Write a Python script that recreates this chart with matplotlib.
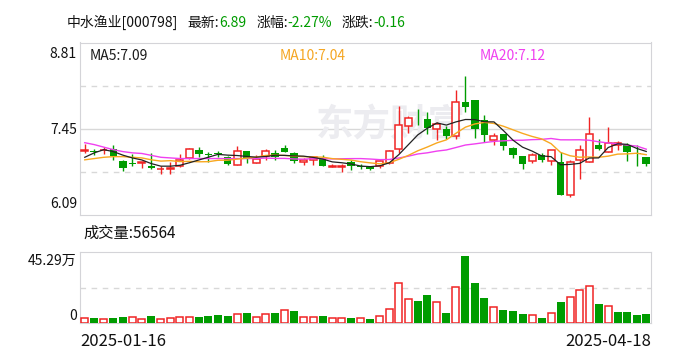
import numpy as np
import pandas as pd
import matplotlib
matplotlib.use("Agg")
import matplotlib.pyplot as plt

plt.rcParams['font.family'] = ['Noto Sans CJK SC', 'DejaVu Sans']

# daily k-line, 2025-01-16 .. 2025-04-18
opens = [7.10, 7.10, 7.11, 7.13, 6.94, 6.91, 6.91, 6.86, 6.81, 6.82,
         6.86, 6.99, 7.12, 7.05, 7.06, 7.00, 6.88, 7.10, 6.91, 7.02,
         7.07, 7.14, 7.07, 6.92, 6.96, 6.97, 6.85, 6.85, 6.93, 6.87,
         6.85, 6.86, 6.91, 7.13, 7.50, 7.61, 7.60, 7.45, 7.45, 7.33,
         7.87, 7.91, 7.59, 7.28, 7.36, 7.15, 7.02, 6.94, 7.04, 6.94,
         6.92, 6.40, 6.95, 6.92, 7.19, 7.09, 7.20, 7.20, 7.06, 7.01]
highs = [7.21, 7.13, 7.17, 7.19, 6.96, 7.05, 6.93, 7.07, 6.86, 6.92,
         7.05, 7.15, 7.16, 7.08, 7.10, 7.02, 7.18, 7.10, 7.04, 7.13,
         7.11, 7.20, 7.09, 6.99, 7.01, 7.03, 6.90, 6.89, 6.96, 6.89,
         6.87, 6.96, 7.12, 7.81, 7.65, 7.76, 7.71, 7.55, 7.50, 8.06,
         8.28, 7.91, 7.67, 7.38, 7.36, 7.17, 7.02, 7.07, 7.07, 7.12,
         7.08, 6.96, 7.20, 7.63, 7.29, 7.48, 7.26, 7.22, 7.20, 7.01]
lows = [7.06, 7.04, 7.05, 6.96, 6.79, 6.87, 6.83, 6.82, 6.73, 6.73,
        6.85, 6.98, 7.00, 6.93, 7.00, 6.88, 6.88, 6.91, 6.91, 6.96,
        6.95, 7.08, 6.91, 6.88, 6.88, 6.86, 6.84, 6.77, 6.80, 6.82,
        6.80, 6.83, 6.90, 7.07, 7.39, 7.51, 7.36, 7.28, 7.29, 7.29,
        7.71, 7.31, 7.24, 7.19, 7.12, 6.99, 6.82, 6.91, 6.93, 6.88,
        6.40, 6.37, 6.66, 6.92, 7.11, 7.09, 7.11, 6.94, 6.86, 6.86]
closes = [7.11, 7.09, 7.12, 7.02, 6.83, 6.89, 6.93, 6.83, 6.82, 6.83,
          6.96, 7.13, 7.05, 7.04, 7.05, 6.90, 7.10, 6.98, 6.98, 7.10,
          7.00, 7.09, 6.94, 6.96, 7.00, 6.87, 6.87, 6.87, 6.86, 6.84,
          6.82, 6.94, 7.10, 7.51, 7.62, 7.60, 7.46, 7.52, 7.34, 7.87,
          7.79, 7.45, 7.35, 7.33, 7.18, 7.04, 6.90, 7.04, 6.95, 7.12,
          6.40, 6.93, 7.12, 7.37, 7.13, 7.22, 7.22, 7.08, 7.05, 6.89]
# volume in 万手, colour as drawn (r = up, g = down)
volumes = [3.6, 3.2, 3.0, 3.2, 3.8, 4.2, 3.0, 4.4, 3.0, 3.6,
           4.2, 4.2, 3.8, 4.4, 5.1, 4.4, 6.1, 6.3, 4.2, 6.1,
           6.3, 8.6, 7.6, 4.2, 4.2, 4.4, 3.6, 3.1, 3.3, 3.1,
           2.7, 4.4, 8.9, 25.3, 15.2, 14.1, 17.9, 13.3, 6.5, 22.8,
           42.6, 25.5, 16.0, 10.1, 8.4, 7.8, 5.9, 5.1, 3.4, 6.3,
           13.5, 16.4, 20.9, 23.4, 12.2, 10.8, 7.1, 7.1, 5.2, 5.6564]
vol_colors = list("rgrggrrgrr" "rrggggrgrr" "grgrrgrrgr" "grrrrggrgr" "gggrgggrgr" "grrrgrgggg")

# moving averages before enough days are visible
ma5_head = [7.00, 7.07, 7.12, 7.09]
ma10_head = [6.96, 6.98, 7.00, 7.01, 7.01, 7.00, 6.99, 6.96, 6.94]
ma20_head = [7.23, 7.20, 7.16, 7.12, 7.09, 7.07, 7.06, 7.03, 7.00, 6.99,
             6.98, 6.98, 6.98, 6.98, 6.98, 6.98, 6.98, 6.98, 6.98]

price_ticks = [8.81, 7.45, 6.09]
vol_top = 45.29

RED = "#f02424"
GREEN = "#009c00"
W, H = 688, 360

s = pd.Series(closes)
def ma(n, head):
    m = s.rolling(n).mean().to_numpy()
    m[:len(head)] = head
    return m
ma5, ma10, ma20 = ma(5, ma5_head), ma(10, ma10_head), ma(20, ma20_head)

fig = plt.figure(figsize=(W / 100, H / 100), dpi=100)

def box(x0, y0, x1, y1):
    return [x0 / W, 1 - y1 / H, (x1 - x0) / W, (y1 - y0) / H]

def ftext(px, py, t, **kw):
    return fig.text(px / W, 1 - py / H, t, **kw)

ax = fig.add_axes(box(80, 42.5, 651, 215))
axv = fig.add_axes(box(80, 251.7, 651, 323.3))

x = np.arange(len(closes))
for a in (ax, axv):
    for sp in a.spines.values():
        sp.set_color("#d4d4d8")
    a.set_xlim(-0.5, len(closes) - 0.5)
    a.set_xticks([])
    a.set_yticks([])

# price panel
ax.set_ylim(price_ticks[-1], price_ticks[0])
for y, ls in [(8.13, (0, (4, 4))), (7.45, "-"), (6.77, (0, (4, 4)))]:
    ax.axhline(y, color="#d8d8d8", lw=1, ls=ls, zorder=0)
# axis labels sit inside the panel height, like the original
for t, py in zip(price_ticks, [54, 130, 204]):
    ftext(77, py, f"{t:.2f}", fontsize=10, color="#111111", ha="right", va="center")

ax.text(0.545, 0.52, "东方财富", transform=ax.transAxes, ha="center", va="center",
        fontsize=27, fontweight="bold", color="#ececf0", zorder=0)

for i in range(len(closes)):
    o, h, l, c = opens[i], highs[i], lows[i], closes[i]
    up = c >= o
    col = RED if up else GREEN
    ax.vlines(i, l, h, color=col, lw=1, zorder=2)
    bot, top = min(o, c), max(o, c)
    ht = max(top - bot, 0.004)
    if up:
        ax.bar(i, ht, 0.74, bot, facecolor="white", edgecolor=col, lw=1.1, zorder=3)
    else:
        ax.bar(i, ht, 0.8, bot, color=col, lw=0, zorder=3)

ax.plot(x, ma20, color="#f040f0", lw=1, zorder=4)
ax.plot(x, ma10, color="#f8a820", lw=1, zorder=4)
ax.plot(x, ma5, color="#222222", lw=0.9, zorder=4)

ax.text(10 / 571, 0.92, "MA5:7.09", transform=ax.transAxes, fontsize=10, color="#1a1a1a", va="center")
ax.text(200 / 571, 0.92, "MA10:7.04", transform=ax.transAxes, fontsize=10, color="#f5a623", va="center")
ax.text(400 / 571, 0.92, "MA20:7.12", transform=ax.transAxes, fontsize=10, color="#f040f0", va="center")

# volume panel
axv.set_ylim(0, vol_top)
axv.axhline(vol_top / 2, color="#d8d8d8", lw=1, ls=(0, (4, 4)), zorder=0)
ftext(76, 261, f"{vol_top:.2f}万", fontsize=10, color="#111111", ha="right", va="center")
ftext(77, 316, "0", fontsize=10, color="#111111", ha="right", va="center")
for i, v in enumerate(volumes):
    if vol_colors[i] == "r":
        axv.bar(i, v, 0.74, facecolor="white", edgecolor=RED, lw=1.1, zorder=3)
    else:
        axv.bar(i, v, 0.84, color=GREEN, lw=0, zorder=3)

# header, laid out piece by piece
parts = [("中水渔业[000798]", "#111111", 9), ("最新:", "#111111", 0), ("6.89", GREEN, 10),
         ("涨幅:", "#111111", 0), ("-2.27%", GREEN, 9), ("涨跌:", "#111111", 0),
         ("-0.16", GREEN, 0)]
renderer = fig.canvas.get_renderer()
px = 67
for t, c, gap in parts:
    txt = ftext(px, 22.7, t, fontsize=10, color=c, va="center", ha="left")
    px = txt.get_window_extent(renderer).x1 + gap

ftext(83, 233, "成交量:56564", fontsize=11, color="#111111", va="center")
ftext(80, 341, "2025-01-16", fontsize=12, color="#111111", va="center", ha="left")
ftext(651, 341, "2025-04-18", fontsize=12, color="#111111", va="center", ha="right")

fig.savefig("out.png", dpi=100)
